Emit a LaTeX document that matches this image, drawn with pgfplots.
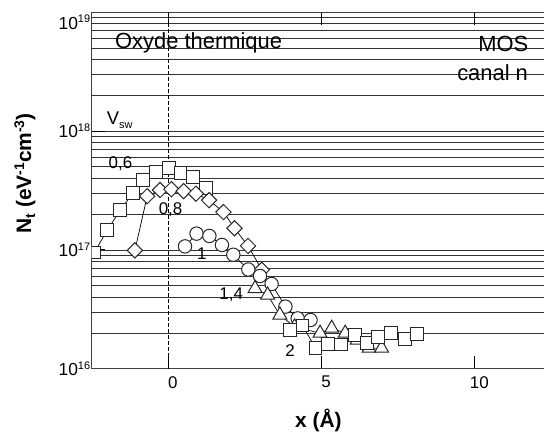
\documentclass[border=0pt]{standalone}
\usepackage{fontspec}
\setmainfont{Liberation Sans}
\usepackage{pgfplots}
\pgfplotsset{compat=1.18}

\newcommand\fs[1]{\fontsize{#1}{#1}\selectfont}
\newcommand\tenp[1]{10\raisebox{6.3bp}{\fs{11}#1}}

\begin{document}
\begin{tikzpicture}
\useasboundingbox (-91.7bp,-63.3bp) rectangle (452.3bp,368.7bp);
\begin{axis}[
    at={(0,0)}, anchor=south west,
    scale only axis, width=453.3bp, height=356.4bp,
    xmin=-2.5, xmax=12.29,
    ymode=log, ymin=1e16, ymax=1e19,
    xtick={0,5,10},
    ytick={1e16,1e17,1e18,1e19},
    yticklabels={\tenp{16},\tenp{17},\tenp{18},\raisebox{-10bp}[\height][\depth]{\tenp{19}}},
    xticklabel pos=bottom, yticklabel pos=left, ytick pos=left,
    tick align=inside,
    major tick length=13bp, minor tick length=0bp,
    ymajorgrids, yminorgrids,
    major grid style={black!80, line width=0.7bp},
    minor grid style={black!80, line width=0.7bp},
    axis line style={black!75, line width=1.2bp},
    tick style={black, line width=0.8bp},
    /pgf/number format/assume math mode=true,
    x tick label style={font=\fs{17}, xshift=4.5bp, yshift=-4bp},
    y tick label style={font=\fs{17.5}, xshift=2bp},
    xlabel={\textbf{x (Å)}},
    ylabel={\textbf{N\raisebox{-4bp}{\fs{14}t} (eV\raisebox{7bp}{\fs{14}-1}cm\raisebox{7bp}{\fs{14}-3})}},
    every axis x label/.style={at={(axis description cs:0.5,0)}, yshift=-52bp, anchor=center, font=\fs{21}},
    every axis y label/.style={at={(axis description cs:0,0.548)}, xshift=-66.7bp, rotate=90, anchor=center, font=\fs{21}},
    clip marker paths=true,
]
% interface oxyde / silicium
\addplot[black, line width=0.9bp, dash pattern=on 3.5bp off 2.5bp] coordinates {(0,1e16) (0,1e19)};

% Vsw = 0,6
\addplot[black, line width=0.7bp, mark=square*, mark size=6.4bp,
    mark options={fill=white, draw=black!85, line width=1bp}] coordinates {
(-2.41,9.5e16) (-2.00,1.46e17) (-1.57,2.15e17) (-1.16,3.0e17) (-0.82,3.87e17)
(-0.39,4.54e17) (0.01,4.89e17) (0.40,4.47e17) (0.81,4.09e17) (1.24,3.32e17)};

% Vsw = 0,8
\addplot[black, line width=0.7bp, mark=square*, mark size=5.4bp,
    mark options={rotate=45, fill=white, draw=black!85, line width=1bp}] coordinates {
(-1.09,9.9e16) (-0.69,2.83e17) (-0.27,3.19e17) (0.10,3.24e17) (0.50,3.12e17)
(0.90,2.97e17) (1.33,2.62e17) (1.80,2.08e17) (2.16,1.52e17) (2.60,1.08e17) (3.05,6.8e16)};

% Vsw = 1
\addplot[black, line width=0.7bp, mark=*, mark size=6.7bp,
    mark options={fill=white, draw=black!85, line width=1bp}] coordinates {
(0.545,1.07e17) (0.92,1.37e17) (1.34,1.31e17) (1.75,1.10e17) (2.12,9.1e16)
(2.61,6.84e16) (2.99,6.03e16) (3.37,5.16e16) (3.82,3.33e16) (4.22,2.65e16) (4.64,2.57e16)};

% Vsw = 1,4
\addplot[black, line width=0.7bp, mark=triangle*, mark size=8bp,
    mark options={fill=white, draw=black!85, line width=1bp}] coordinates {
(2.83,4.73e16) (3.24,4.17e16) (3.64,2.83e16) (4.12,2.25e16) (4.95,1.99e16)
(5.33,2.19e16) (5.77,1.99e16) (6.16,1.74e16) (6.55,1.49e16) (6.96,1.49e16)};

% Vsw = 2
\addplot[black, line width=0.7bp, mark=square*, mark size=6.4bp,
    mark options={fill=white, draw=black!85, line width=1bp}] coordinates {
(3.97,2.12e16) (4.38,2.31e16) (4.80,1.49e16) (5.22,1.61e16) (5.63,1.60e16)
(6.09,1.91e16) (6.48,1.65e16) (6.85,1.86e16) (7.26,1.99e16) (7.71,1.77e16) (8.12,1.96e16)};

\node[anchor=base west, font=\fs{22}, inner sep=0pt] at (axis cs:-1.74,4.98e18) {Oxyde thermique};
\node[anchor=base east, font=\fs{22}, inner sep=0pt] at (axis cs:11.75,4.66e18) {MOS};
\node[anchor=base east, font=\fs{22}, inner sep=0pt] at (axis cs:11.74,2.69e18) {canal n};
\node[anchor=base west, font=\fs{18.5}, inner sep=0pt] at (axis cs:-2.01,1.125e18) {V\raisebox{-4bp}{\fs{11}sw}};
\node[anchor=base, font=\fs{17}, inner sep=0pt] at (axis cs:-1.56,4.86e17) {0,6};
\node[anchor=base, font=\fs{17}, inner sep=0pt] at (axis cs:0.072,1.97e17) {0,8};
\node[anchor=base, font=\fs{17}, inner sep=0pt] at (axis cs:1.09,8.22e16) {1};
\node[anchor=base, font=\fs{17}, inner sep=0pt] at (axis cs:2.05,3.79e16) {1,4};
\node[anchor=base, font=\fs{17}, inner sep=0pt] at (axis cs:3.97,1.26e16) {2};
\end{axis}
\end{tikzpicture}
\end{document}
